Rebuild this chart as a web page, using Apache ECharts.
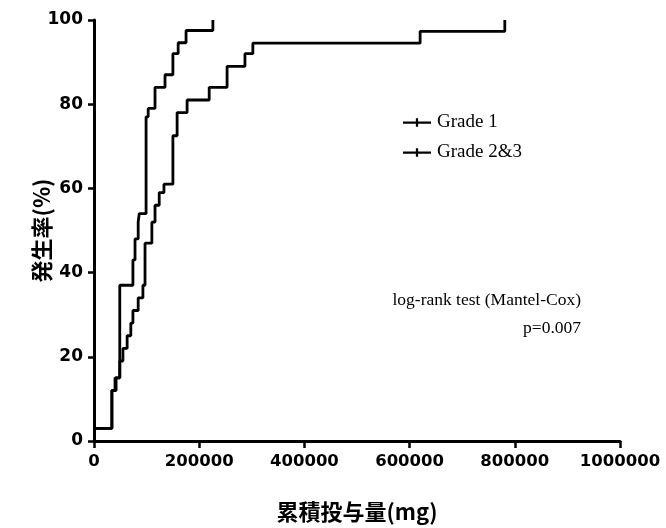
<!DOCTYPE html>
<html>
<head>
<meta charset="utf-8">
<script src="https://cdn.jsdelivr.net/npm/echarts@6/dist/echarts.min.js"></script>
<style>html,body{margin:0;padding:0;background:#fff;}#c{width:666px;height:528px;}</style>
</head>
<body>
<div id="c"></div>
<script>
// Grade 1 (slower-rising curve)
const grade1X = [0, 34000, 42000, 49000, 55000, 63000, 70000, 74000, 84000, 93000, 97000, 110000, 116000, 124000, 133000, 150000, 158000, 177000, 219000, 253000, 287000, 302000, 620000, 781000];
const grade1Y = [3, 12, 15, 19, 22, 25, 28, 31, 34, 37, 47, 52, 56, 59, 61, 72.5, 78, 81, 84, 89, 92, 94.5, 97.3, 100];
// Grade 2&3 (steeper curve)
const grade23X = [0, 34000, 40000, 49000, 74000, 78000, 84000, 86000, 99000, 103000, 116000, 135000, 150000, 160000, 175000, 226000];
const grade23Y = [3, 12, 15, 37, 43, 48, 52, 54, 77, 79, 84, 87, 92, 94.6, 97.5, 100];
const seriesNames = ['Grade 1', 'Grade 2&3'];
const xTicks = [0, 200000, 400000, 600000, 800000, 1000000];
const yTicks = [0, 20, 40, 60, 80, 100];
const xName = '累積投与量(mg)';
const yName = '発生率(%)';
const noteLines = ['log-rank test (Mantel-Cox)', 'p=0.007'];

const zip = (xs, ys) => xs.map((x, i) => [x, ys[i]]);
const chart = echarts.init(document.getElementById('c'));
const tickIcon = 'path://M0,4h30v2.4h-30z M13.8,0.5h2.4v9h-2.4z';
const lineStyle = { color: '#000', width: 2.8 };
chart.setOption({
  animation: false,
  backgroundColor: '#fff',
  grid: { left: 94, right: 46, top: 20, bottom: 82, containLabel: false },
  legend: {
    orient: 'vertical',
    left: 398, top: 108,
    itemWidth: 28, itemHeight: 10, itemGap: 11,
    data: seriesNames.map(n => ({ name: n, icon: tickIcon })),
    itemStyle: { color: '#000' },
    textStyle: { fontFamily: 'Liberation Serif', fontSize: 19, color: '#000', padding: [0, 0, 0, 1] }
  },
  xAxis: {
    type: 'value', min: xTicks[0], max: xTicks[xTicks.length - 1], interval: 200000,
    name: xName, nameLocation: 'middle', nameGap: 60,
    nameTextStyle: { fontFamily: 'Noto Sans CJK JP', fontWeight: 'bold', fontSize: 22, color: '#000' },
    axisLine: { onZero: false, lineStyle: { color: '#000', width: 3 } },
    axisTick: { length: 7, lineStyle: { color: '#000', width: 2.5 } },
    axisLabel: { formatter: v => String(v), fontFamily: 'DejaVu Sans', fontWeight: 'bold', fontSize: 16.5, color: '#000', margin: 12 },
    splitLine: { show: false }
  },
  yAxis: {
    type: 'value', min: yTicks[0], max: yTicks[yTicks.length - 1], interval: 20,
    name: yName, nameLocation: 'middle', nameGap: 41, nameRotate: 90, nameMoveOverlap: false,
    nameTextStyle: { fontFamily: 'Noto Sans CJK JP', fontWeight: 'bold', fontSize: 22, color: '#000' },
    axisLine: { show: true, onZero: false, lineStyle: { color: '#000', width: 3 } },
    axisTick: { show: true, length: 6, lineStyle: { color: '#000', width: 2.5 } },
    axisLabel: { fontFamily: 'DejaVu Sans', fontWeight: 'bold', fontSize: 17, color: '#000', margin: 11 },
    splitLine: { show: false }
  },
  series: [
    { name: seriesNames[0], type: 'line', step: 'end', symbol: 'none', data: zip(grade1X, grade1Y), lineStyle: lineStyle, itemStyle: { color: '#000' } },
    { name: seriesNames[1], type: 'line', step: 'end', symbol: 'none', data: zip(grade23X, grade23Y), lineStyle: lineStyle, itemStyle: { color: '#000' } }
  ],
  graphic: [
    { type: 'text', x: 581, y: 300, style: { text: noteLines[0], fontFamily: 'Liberation Serif', fontSize: 17.5, fill: '#000', textAlign: 'right', textVerticalAlign: 'middle' } },
    { type: 'text', x: 581, y: 328, style: { text: noteLines[1], fontFamily: 'Liberation Serif', fontSize: 17.5, fill: '#000', textAlign: 'right', textVerticalAlign: 'middle' } }
  ]
});
</script>
</body>
</html>
